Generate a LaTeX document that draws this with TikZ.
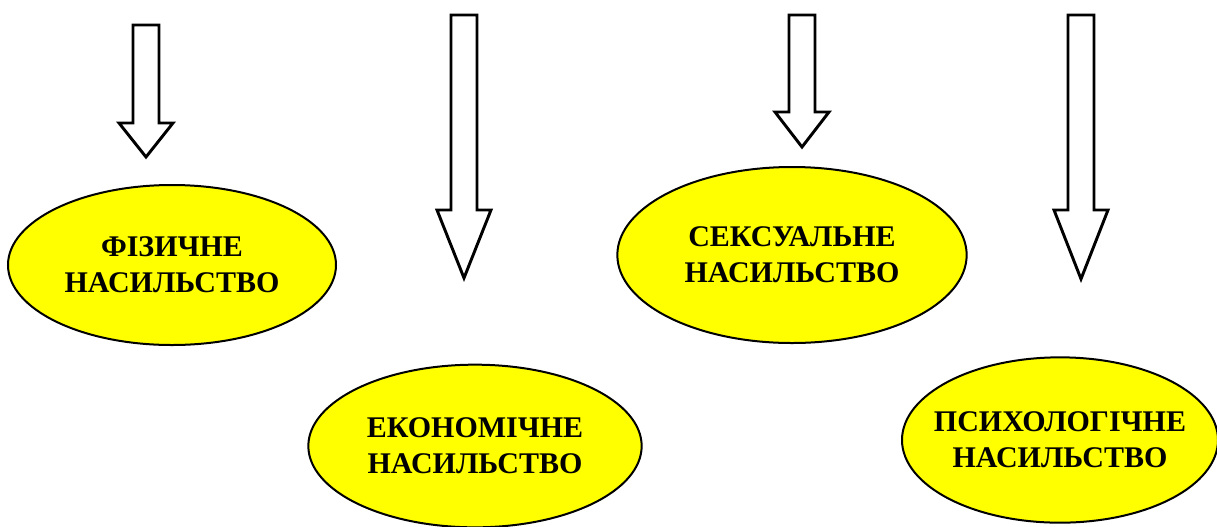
\documentclass[tikz,border=0pt]{standalone}
\usepackage{fontspec}
\setmainfont{Liberation Serif}
\usetikzlibrary{shapes.geometric}
\definecolor{ovalyellow}{RGB}{255, 255, 0}
\tikzset{
  oval/.style={ellipse, draw=black, line width=1.5pt, fill=ovalyellow,
              align=center, inner xsep=-20pt, inner ysep=0pt,
              font=\fontsize{22.5}{27}\selectfont\bfseries},
  blockarrow/.style={draw=black, line width=2.2pt, fill=white, line join=miter},
}

\begin{document}
\begin{tikzpicture}[x=0.75pt, y=-0.75pt]
  \useasboundingbox (0,0) rectangle (1217,526);

  % hollow arrows
  \foreach \xc/\ytop/\yhead/\ytip in {146/25/123/157, 464/15/210/278, 802/15/112/147, 1081/15/210/279}
    \draw[blockarrow] (\xc-13,\ytop) -- (\xc+13,\ytop) -- (\xc+13,\yhead) -- (\xc+27,\yhead)
      -- (\xc,\ytip) -- (\xc-27,\yhead) -- (\xc-13,\yhead) -- cycle;

  \node[oval, minimum width=246pt, minimum height=120pt] (fiz) at (172,265)
        {ФІЗИЧНЕ\\НАСИЛЬСТВО};
  \node[oval, minimum width=262pt, minimum height=132pt] (seks) at (792,255)
        {СЕКСУАЛЬНЕ\\НАСИЛЬСТВО};
  \node[oval, minimum width=250pt, minimum height=122pt] (ekon) at (475,446)
        {ЕКОНОМІЧНЕ\\НАСИЛЬСТВО};
  \node[oval, minimum width=237pt, minimum height=124pt] (psych) at (1060,440)
        {ПСИХОЛОГІЧНЕ\\НАСИЛЬСТВО};
\end{tikzpicture}
\end{document}
